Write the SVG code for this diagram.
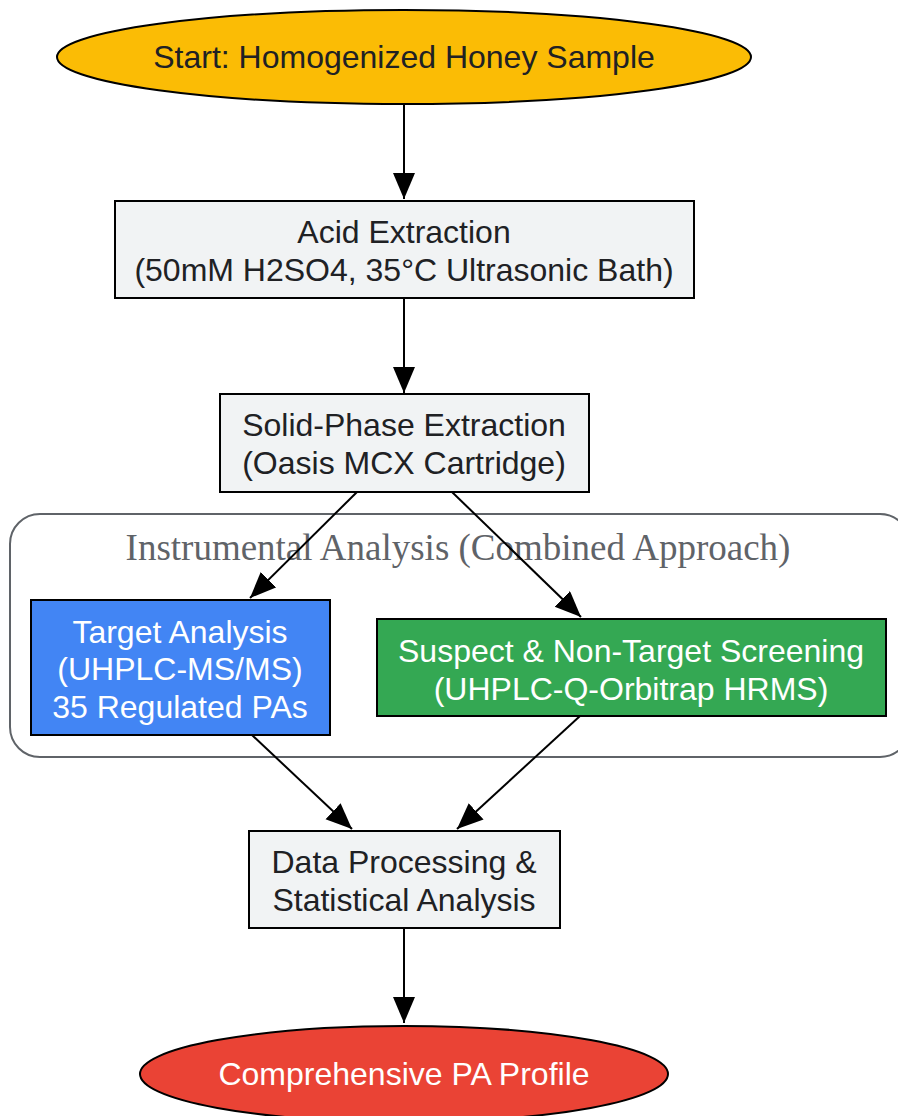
<svg xmlns="http://www.w3.org/2000/svg" width="898" height="1116" viewBox="0 0 898 1116">
<style>
.t{font-family:"Liberation Sans",Arial,sans-serif;font-size:32px;text-anchor:middle;fill:#202124}
.w{fill:#ffffff}
.box{stroke:#000;stroke-width:2}
.e{stroke:#000;stroke-width:2;fill:none}
.cl{font-family:"Liberation Serif","Times New Roman",serif;font-size:37px;text-anchor:middle;fill:#5f6368}
</style>
<defs>
<marker id="ah" markerUnits="userSpaceOnUse" markerWidth="28" markerHeight="24" refX="26" refY="11" orient="auto">
<path d="M0,0 L26,11 L0,22 z" fill="#000"/>
</marker>
</defs>
<rect width="898" height="1116" fill="#fff"/>
<g id="cluster">
<rect x="10" y="514" width="900" height="243" rx="30" ry="30" fill="none" stroke="#5f6368" stroke-width="2"/>
<text class="cl" x="458" y="560">Instrumental Analysis (Combined Approach)</text>
</g>
<g id="edges">
<line class="e" x1="404" y1="104" x2="404" y2="199" marker-end="url(#ah)"/>
<line class="e" x1="404" y1="298" x2="404" y2="393" marker-end="url(#ah)"/>
<line class="e" x1="357" y1="492" x2="250" y2="598" marker-end="url(#ah)"/>
<line class="e" x1="452" y1="492" x2="581" y2="617" marker-end="url(#ah)"/>
<line class="e" x1="252" y1="735" x2="352" y2="829" marker-end="url(#ah)"/>
<line class="e" x1="580" y1="716" x2="457" y2="829" marker-end="url(#ah)"/>
<line class="e" x1="404" y1="928" x2="404" y2="1023" marker-end="url(#ah)"/>
</g>
<g id="start">
<ellipse cx="404" cy="57" rx="347" ry="47" fill="#FBBC05" class="box"/>
<text class="t" x="404" y="68">Start: Homogenized Honey Sample</text>
</g>
<g id="acid">
<rect x="115" y="201" width="579" height="97" fill="#F1F3F4" class="box"/>
<text class="t" x="404" y="243">Acid Extraction</text>
<text class="t" x="404" y="281">(50mM H2SO4, 35°C Ultrasonic Bath)</text>
</g>
<g id="spe">
<rect x="220" y="394" width="369" height="98" fill="#F1F3F4" class="box"/>
<text class="t" x="404" y="436">Solid-Phase Extraction</text>
<text class="t" x="404" y="474">(Oasis MCX Cartridge)</text>
</g>
<g id="target">
<rect x="31" y="600" width="299" height="135" fill="#4285F4" class="box"/>
<text class="t w" x="180" y="643">Target Analysis</text>
<text class="t w" x="180" y="680">(UHPLC-MS/MS)</text>
<text class="t w" x="180" y="718">35 Regulated PAs</text>
</g>
<g id="suspect">
<rect x="377" y="619" width="509" height="97" fill="#34A853" class="box"/>
<text class="t w" x="631" y="662">Suspect &amp; Non-Target Screening</text>
<text class="t w" x="631" y="700">(UHPLC-Q-Orbitrap HRMS)</text>
</g>
<g id="data">
<rect x="249" y="831" width="311" height="97" fill="#F1F3F4" class="box"/>
<text class="t" x="404" y="873">Data Processing &amp;</text>
<text class="t" x="404" y="911">Statistical Analysis</text>
</g>
<g id="end">
<ellipse cx="404" cy="1074" rx="264" ry="48" fill="#EA4335" class="box"/>
<text class="t w" x="404" y="1085">Comprehensive PA Profile</text>
</g>
</svg>
